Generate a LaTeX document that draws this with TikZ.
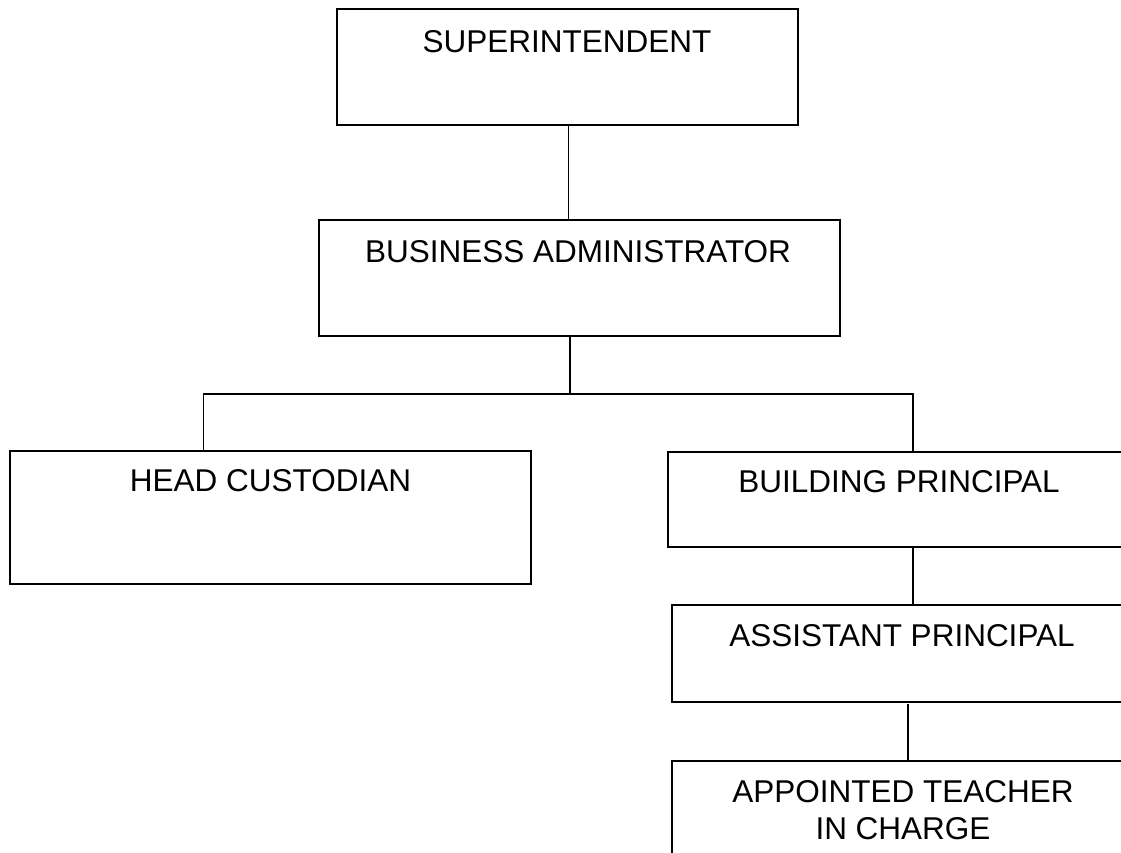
\documentclass[tikz,border=0pt]{standalone}
\usepackage{fontspec}
\setmainfont{Liberation Sans}
\begin{document}
\begin{tikzpicture}[x=1pt,y=-1pt,
  orgbox/.style={draw=black,line width=1.4pt,rectangle,inner sep=0pt,outer sep=0pt,anchor=north west},
  conn/.style={draw=black,line width=1.1pt},
  lbl/.style={inner sep=0pt,outer sep=0pt,anchor=base,font=\fontsize{31.5}{37}\selectfont,align=center}]
\clip (0,0) rectangle (1121,852);
\fill[white] (0,0) rectangle (1121,852);
% boxes
\node[orgbox,minimum width=461pt,minimum height=116pt] (sup) at (337,9) {};
\node[orgbox,minimum width=521pt,minimum height=116pt] (ba) at (319,220) {};
\node[orgbox,minimum width=521pt,minimum height=133pt] (hc) at (10,451) {};
\node[orgbox,minimum width=462pt,minimum height=95pt] (bp) at (668,452) {};
\node[orgbox,minimum width=460pt,minimum height=97pt] (ap) at (672,605) {};
\node[orgbox,minimum width=460pt,minimum height=140pt] (at) at (672,761) {};
% labels
\node[lbl] (tsup) at (567,52) {SUPERINTENDENT};
\node[lbl] (tba) at (578,262) {BUSINESS ADMINISTRATOR};
\node[lbl] (thc) at (270.5,491) {HEAD CUSTODIAN};
\node[lbl] (tbp) at (899,492) {BUILDING PRINCIPAL};
\node[lbl] (tap) at (902,646) {ASSISTANT PRINCIPAL};
\node[lbl] (tat1) at (903,802) {APPOINTED TEACHER};
\node[lbl] (tat2) at (903,839) {IN CHARGE};
% connectors
\coordinate (c1) at (568.5,0);
\coordinate (j) at (570,394);
\coordinate (jl) at (203.5,394);
\coordinate (jr) at (913,394);
\coordinate (c2) at (908,704);
\draw[conn] (c1 |- sup.south) -- (c1 |- ba.north);
\draw[conn] (j |- ba.south) -- (j);
\draw[conn] (jl |- hc.north) -- (jl) -- (jr) -- (jr |- bp.north);
\draw[conn] (jr |- bp.south) -- (jr |- ap.north);
\draw[conn] (c2) -- (c2 |- at.north);
\end{tikzpicture}
\end{document}
